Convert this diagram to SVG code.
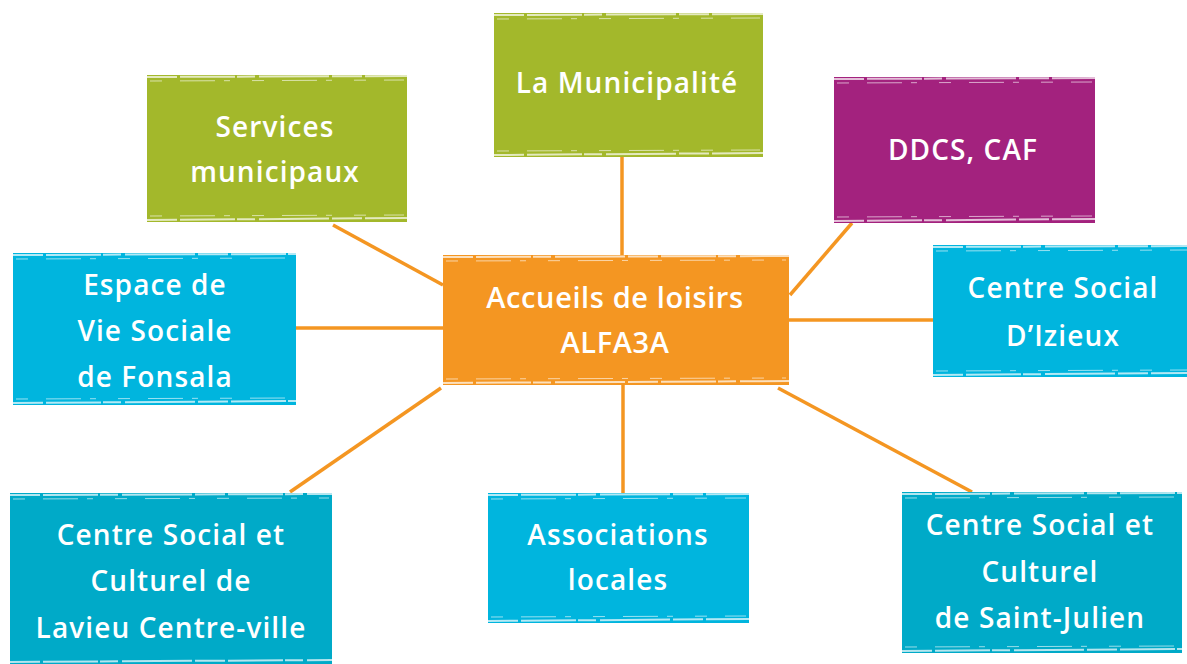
<svg xmlns="http://www.w3.org/2000/svg" width="1187" height="664" viewBox="0 0 1187 664">
<style>
.green{fill:#a3b82b}
.purple{fill:#a3227e}
.blue{fill:#00b5de}
.teal{fill:#00aac8}
.orange{fill:#f49622}
.lbl{font-family:"Open Sans",Lato,"Liberation Sans",sans-serif;font-size:28px;font-weight:600;letter-spacing:1.1px;fill:#fff;text-anchor:middle}
.big{font-size:29px;letter-spacing:0.6px}
.brush{stroke:#fff;stroke-width:2;fill:none;stroke-dasharray:30 3 55 2 18 4 70 3;opacity:0.7}
.brush2{stroke:#fff;stroke-width:1;fill:none;stroke-dasharray:12 18 35 9 6 22;opacity:0.6}
.conn{stroke:#f49622;stroke-width:3.5;fill:none}
</style>
<rect width="1187" height="664" fill="#fff"/>
<g id="connectors">
<line class="conn" x1="333" y1="225" x2="443" y2="285"/>
<line class="conn" x1="622" y1="157" x2="622" y2="255"/>
<line class="conn" x1="852" y1="223" x2="790" y2="295"/>
<line class="conn" x1="296" y1="328" x2="443" y2="328"/>
<line class="conn" x1="789" y1="320" x2="940" y2="320"/>
<line class="conn" x1="441" y1="388" x2="290" y2="492"/>
<line class="conn" x1="623" y1="385" x2="623" y2="497"/>
<line class="conn" x1="778" y1="388" x2="972" y2="492"/>
</g>
<g id="services">
<rect class="green" x="147" y="75" width="260" height="147"/>
<path class="brush" d="M147 77 L407 76"/><path class="brush2" d="M150 81 L404 80"/>
<path class="brush" d="M147 220 L407 218"/><path class="brush2" d="M150 216 L404 215"/>
<text class="lbl" x="275" y="137">Services</text>
<text class="lbl" x="275" y="182">municipaux</text>
</g>
<g id="municipalite">
<rect class="green" x="494" y="13" width="269" height="144"/>
<path class="brush" d="M494 15 L763 14"/><path class="brush2" d="M497 19 L760 18"/>
<path class="brush" d="M494 155 L763 153"/><path class="brush2" d="M497 151 L760 150"/>
<text class="lbl" x="627" y="93">La Municipalité</text>
</g>
<g id="ddcs">
<rect class="purple" x="834" y="77" width="261" height="146"/>
<path class="brush" d="M834 79 L1095 78"/><path class="brush2" d="M837 83 L1092 82"/>
<path class="brush" d="M834 221 L1095 219"/><path class="brush2" d="M837 217 L1092 216"/>
<text class="lbl" x="963" y="160">DDCS, CAF</text>
</g>
<g id="espace">
<rect class="blue" x="13" y="253" width="283" height="152"/>
<path class="brush" d="M13 255 L296 254"/><path class="brush2" d="M16 259 L293 258"/>
<path class="brush" d="M13 403 L296 401"/><path class="brush2" d="M16 399 L293 398"/>
<text class="lbl" x="155" y="295">Espace de</text>
<text class="lbl" x="155" y="341">Vie Sociale</text>
<text class="lbl" x="155" y="387">de Fonsala</text>
</g>
<g id="accueils">
<rect class="orange" x="443" y="255" width="346" height="130"/>
<path class="brush" d="M443 257 L789 256"/><path class="brush2" d="M446 261 L786 260"/>
<path class="brush" d="M443 383 L789 381"/><path class="brush2" d="M446 379 L786 378"/>
<text class="lbl big" x="615" y="308">Accueils de loisirs</text>
<text class="lbl big" x="615" y="353">ALFA3A</text>
</g>
<g id="izieux">
<rect class="blue" x="933" y="245" width="254" height="132"/>
<path class="brush" d="M933 247 L1187 246"/><path class="brush2" d="M936 251 L1187 250"/>
<path class="brush" d="M933 375 L1187 373"/><path class="brush2" d="M936 371 L1187 370"/>
<text class="lbl" x="1063" y="298">Centre Social</text>
<text class="lbl" x="1063" y="346">D’Izieux</text>
</g>
<g id="lavieu">
<rect class="teal" x="10" y="493" width="322" height="171"/>
<path class="brush" d="M10 495 L332 494"/><path class="brush2" d="M13 499 L329 498"/>
<path class="brush" d="M10 662 L332 660"/>
<text class="lbl" x="171" y="545">Centre Social et</text>
<text class="lbl" x="171" y="591">Culturel de</text>
<text class="lbl" x="171" y="638">Lavieu Centre-ville</text>
</g>
<g id="associations">
<rect class="blue" x="488" y="493" width="261" height="130"/>
<path class="brush" d="M488 495 L749 494"/><path class="brush2" d="M491 499 L746 498"/>
<path class="brush" d="M488 621 L749 619"/><path class="brush2" d="M491 617 L746 616"/>
<text class="lbl" x="618" y="545">Associations</text>
<text class="lbl" x="618" y="590">locales</text>
</g>
<g id="saintjulien">
<rect class="teal" x="902" y="492" width="280" height="161"/>
<path class="brush" d="M902 494 L1182 493"/><path class="brush2" d="M905 498 L1179 497"/>
<path class="brush" d="M902 651 L1182 649"/><path class="brush2" d="M905 647 L1179 646"/>
<text class="lbl" x="1040" y="535">Centre Social et</text>
<text class="lbl" x="1040" y="582">Culturel</text>
<text class="lbl" x="1040" y="628">de Saint-Julien</text>
</g>
</svg>
